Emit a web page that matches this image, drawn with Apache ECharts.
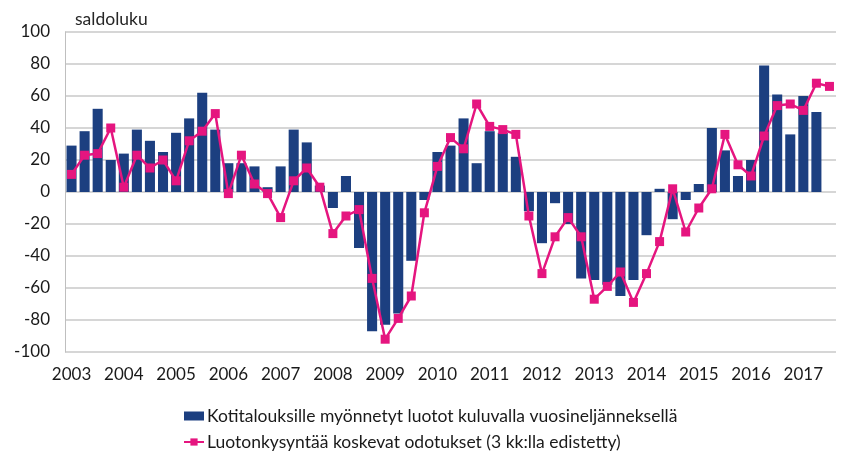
<!DOCTYPE html>
<html>
<head>
<meta charset="utf-8">
<script src="https://cdn.jsdelivr.net/npm/echarts@6/dist/echarts.min.js"></script>
<style>
  html, body { margin: 0; padding: 0; background: #ffffff; }
  #chart { width: 859px; height: 475px; }
</style>
</head>
<body>
<div id="chart"></div>
<script>
// Quarterly categories 2003Q1 .. 2017Q3
var categories = [
  "2003 Q1","2003 Q2","2003 Q3","2003 Q4",
  "2004 Q1","2004 Q2","2004 Q3","2004 Q4",
  "2005 Q1","2005 Q2","2005 Q3","2005 Q4",
  "2006 Q1","2006 Q2","2006 Q3","2006 Q4",
  "2007 Q1","2007 Q2","2007 Q3","2007 Q4",
  "2008 Q1","2008 Q2","2008 Q3","2008 Q4",
  "2009 Q1","2009 Q2","2009 Q3","2009 Q4",
  "2010 Q1","2010 Q2","2010 Q3","2010 Q4",
  "2011 Q1","2011 Q2","2011 Q3","2011 Q4",
  "2012 Q1","2012 Q2","2012 Q3","2012 Q4",
  "2013 Q1","2013 Q2","2013 Q3","2013 Q4",
  "2014 Q1","2014 Q2","2014 Q3","2014 Q4",
  "2015 Q1","2015 Q2","2015 Q3","2015 Q4",
  "2016 Q1","2016 Q2","2016 Q3","2016 Q4",
  "2017 Q1","2017 Q2","2017 Q3"
];

// Bars: Kotitalouksille myönnetyt luotot kuluvalla vuosineljänneksellä
var loansGranted = [
  29, 38, 52, 20,
  24, 39, 32, 25,
  37, 46, 62, 39,
  18, 18, 16, 3,
  16, 39, 31, 4,
  -10, 10, -35, -87,
  -83, -76, -43, -5,
  25, 29, 46, 18,
  38, 37, 22, -12,
  -32, -7, -20, -54,
  -55, -58, -65, -55,
  -27, 2, -17, -5,
  5, 40, 26, 10,
  20, 79, 61, 36,
  60, 50, null
];

// Line: Luotonkysyntää koskevat odotukset (3 kk:lla edistetty)
var demandExpectations = [
  11, 23, 24, 40,
  3, 23, 15, 20,
  7, 32, 38, 49,
  -1, 23, 5, -1,
  -16, 7, 15, 3,
  -26, -15, -11, -54,
  -92, -79, -65, -13,
  16, 34, 27, 55,
  41, 39, 36, -15,
  -51, -28, -16, -28,
  -67, -59, -50, -69,
  -51, -31, 2, -25,
  -10, 2, 36, 17,
  10, 35, 54, 55,
  51, 68, 66
];

var seriesNames = [
  "Kotitalouksille myönnetyt luotot kuluvalla vuosineljänneksellä",
  "Luotonkysyntää koskevat odotukset (3 kk:lla edistetty)"
];
var yAxisName = "saldoluku";
var yMin = -100, yMax = 100, yStep = 20;

var FONT = "Lato, 'Open Sans', sans-serif";
var chart = echarts.init(document.getElementById('chart'), null, { renderer: 'canvas' });

chart.setOption({
  animation: false,
  backgroundColor: '#ffffff',
  textStyle: { fontFamily: FONT },
  graphic: [{
    type: 'text',
    left: 75,
    top: 10,
    style: { text: yAxisName, font: '17.5px ' + FONT, fill: '#262626' }
  }],
  grid: { left: 65, right: 23, top: 32, bottom: 123, containLabel: false },
  legend: {
    orient: 'vertical',
    left: 183,
    top: 407,
    padding: 0,
    itemGap: 8,
    itemWidth: 20,
    itemHeight: 9,
    textStyle: { fontSize: 17.5, lineHeight: 18, color: '#1a1a1a', fontFamily: FONT, padding: [0, 0, 0, -2] },
    data: [
      { name: seriesNames[0], icon: 'rect' },
      { name: seriesNames[1] }
    ]
  },
  xAxis: {
    type: 'category',
    data: categories,
    boundaryGap: true,
    axisLine: { show: false, onZero: false },
    axisTick: { show: false },
    axisLabel: {
      interval: 3,
      margin: 14,
      fontSize: 17,
      color: '#1a1a1a',
      fontFamily: FONT,
      formatter: function (v) { return v.split(' ')[0]; }
    },
    splitLine: { show: false }
  },
  yAxis: {
    type: 'value',
    min: yMin,
    max: yMax,
    interval: yStep,
    axisLine: { show: true, lineStyle: { color: '#bfbfbf', width: 1 } },
    axisTick: { show: false },
    axisLabel: { margin: 15, fontSize: 17, color: '#1a1a1a', fontFamily: FONT },
    splitLine: { show: true, lineStyle: { color: '#c8c8c8', width: 1.5 } }
  },
  series: [
    {
      name: seriesNames[0],
      type: 'bar',
      data: loansGranted,
      barCategoryGap: '23%',
      itemStyle: { color: '#1c3f80' },
      z: 2
    },
    {
      name: seriesNames[1],
      type: 'line',
      data: demandExpectations,
      symbol: 'rect',
      symbolSize: 9,
      showAllSymbol: true,
      lineStyle: { color: '#e5157f', width: 2.5 },
      itemStyle: { color: '#e5157f' },
      z: 3
    }
  ]
});
</script>
</body>
</html>
